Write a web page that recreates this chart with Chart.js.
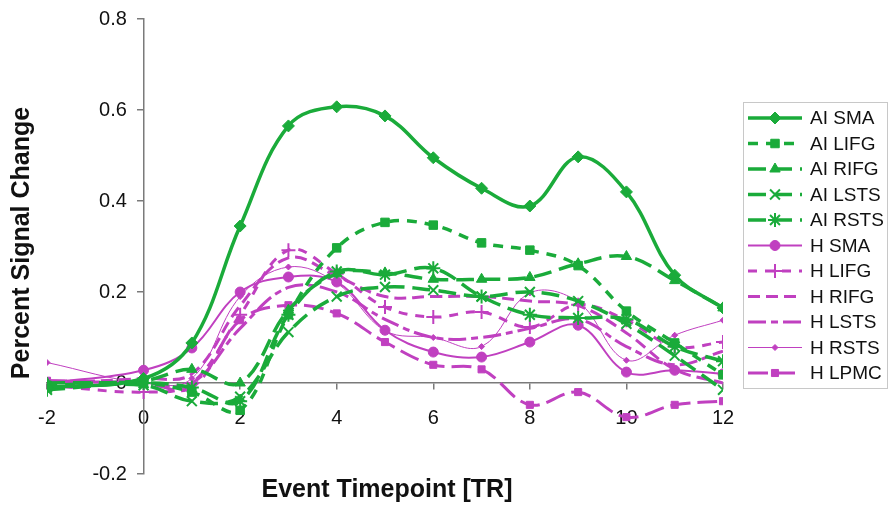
<!DOCTYPE html>
<html lang="en">
<head>
  <meta charset="UTF-8" />
  <title>Percent Signal Change</title>
  <style>
    body { margin: 0; background: #fff; }
    #wrap { width: 890px; height: 505px; }
  </style>
  <script src="https://cdn.jsdelivr.net/npm/chart.js"></script>
</head>
<body>
  <div id="wrap"><canvas id="psc" width="890" height="505"></canvas></div>
  <script>
    // timepoints (TR) and series values
    const timepoints = [-2, 0, 1, 2, 3, 4, 5, 6, 7, 8, 9, 10, 11, 12];

    const aiSMA  = [-0.01, 0.01, 0.088, 0.345, 0.565, 0.607, 0.587, 0.495, 0.428, 0.389, 0.497, 0.42, 0.237, 0.165];
    const aiLIFG = [-0.005, 0.0, -0.02, -0.06, 0.15, 0.297, 0.353, 0.347, 0.308, 0.292, 0.258, 0.158, 0.088, 0.018];
    const aiRIFG = [0.0, 0.005, 0.03, 0.0, 0.16, 0.24, 0.242, 0.228, 0.228, 0.232, 0.262, 0.278, 0.225, 0.165];
    const aiLSTS = [-0.01, -0.005, -0.04, -0.03, 0.112, 0.19, 0.211, 0.204, 0.19, 0.2, 0.18, 0.13, 0.06, -0.015];
    const aiRSTS = [-0.015, 0.0, -0.01, -0.04, 0.15, 0.245, 0.238, 0.252, 0.19, 0.15, 0.143, 0.14, 0.08, 0.048];

    const hSMA  = [0.0, 0.028, 0.077, 0.2, 0.233, 0.222, 0.116, 0.068, 0.057, 0.09, 0.127, 0.024, 0.028, 0.02];
    const hLIFG = [-0.005, -0.02, 0.0, 0.15, 0.292, 0.24, 0.167, 0.145, 0.156, 0.123, 0.172, 0.138, 0.08, 0.09];
    const hRIFG = [0.0, 0.01, 0.02, 0.17, 0.275, 0.235, 0.19, 0.19, 0.19, 0.18, 0.17, 0.11, 0.03, 0.0];
    const hLSTS = [0.005, 0.0, 0.0, 0.12, 0.21, 0.2, 0.14, 0.1, 0.1, 0.12, 0.14, 0.08, 0.04, 0.07];
    const hRSTS = [0.045, 0.0, 0.01, 0.19, 0.255, 0.22, 0.115, 0.1, 0.08, 0.198, 0.178, 0.05, 0.105, 0.138];
    const hLPMC = [0.005, 0.0, -0.01, 0.138, 0.171, 0.153, 0.09, 0.04, 0.03, -0.048, -0.02, -0.075, -0.048, -0.04];

    const GREEN = '#1aab3a';
    const MAGENTA = '#c040c0';
    const FONT = '"Liberation Sans", Arial, sans-serif';

    function pts(values) {
      return values.map((v, i) => ({ x: timepoints[i], y: v }));
    }

    function series(label, values, color, width, dash, style, radius) {
      const stroked = style === 'crossRot' || style === 'star' || style === 'cross';
      return {
        label: label,
        data: pts(values),
        borderColor: color,
        backgroundColor: color,
        borderWidth: width,
        borderDash: dash,
        pointStyle: style,
        pointRadius: radius,
        pointBorderWidth: stroked ? 2 : 1,
        pointBorderColor: color,
        pointBackgroundColor: color,
        tension: 0.38,
        fill: false
      };
    }

    const datasets = [
      series('AI SMA',  aiSMA,  GREEN, 3.5, [],       'rectRot',  6),
      series('AI LIFG', aiLIFG, GREEN, 3.5, [10, 8],  'rect',     6),
      series('AI RIFG', aiRIFG, GREEN, 3.5, [18, 8],  'triangle', 6),
      series('AI LSTS', aiLSTS, GREEN, 3.5, [18, 8],  'crossRot', 7),
      series('AI RSTS', aiRSTS, GREEN, 3.5, [18, 8],  'star',     7),
      series('H SMA',   hSMA,   MAGENTA, 2, [],       'circle',   5),
      series('H LIFG',  hLIFG,  MAGENTA, 3, [9, 8],   'cross',    7),
      series('H RIFG',  hRIFG,  MAGENTA, 3, [12, 6],  false,      0),
      series('H LSTS',  hLSTS,  MAGENTA, 3, [18, 5, 7, 5], false, 0),
      series('H RSTS',  hRSTS,  MAGENTA, 1, [],       'rectRot',  3),
      series('H LPMC',  hLPMC,  MAGENTA, 3, [20, 7],  'rect',     5)
    ];

    // legend box + axis titles drawn on the canvas
    const extras = {
      id: 'extras',
      afterDraw(chart) {
        const ctx = chart.ctx;
        ctx.save();
        // legend frame
        ctx.strokeStyle = '#c8c8c8';
        ctx.lineWidth = 1;
        ctx.strokeRect(743.5, 102.5, 144, 286);
        ctx.font = '19px ' + FONT;
        ctx.textBaseline = 'middle';
        chart.data.datasets.forEach((ds, i) => {
          const y = 118 + i * 25.5;
          ctx.strokeStyle = ds.borderColor;
          ctx.lineWidth = ds.borderWidth;
          ctx.setLineDash(ds.borderDash);
          ctx.beginPath();
          ctx.moveTo(748, y);
          ctx.lineTo(802, y);
          ctx.stroke();
          ctx.setLineDash([]);
          if (ds.pointStyle) {
            ctx.fillStyle = ds.borderColor;
            ctx.lineWidth = ds.pointBorderWidth;
            Chart.helpers.drawPoint(ctx, {
              pointStyle: ds.pointStyle,
              radius: ds.pointRadius,
              borderWidth: ds.pointBorderWidth,
              rotation: 0
            }, 775, y);
          }
          ctx.fillStyle = '#111';
          ctx.textAlign = 'left';
          ctx.fillText(ds.label, 810, y + 1);
        });
        // axis titles
        ctx.fillStyle = '#111';
        ctx.font = 'bold 25px ' + FONT;
        ctx.textAlign = 'center';
        ctx.fillText('Event Timepoint [TR]', 387, 490);
        ctx.translate(22, 243);
        ctx.rotate(-Math.PI / 2);
        ctx.fillText('Percent Signal Change', 0, 0);
        ctx.restore();
      }
    };

    new Chart(document.getElementById('psc'), {
      type: 'line',
      data: { datasets: datasets },
      plugins: [extras],
      options: {
        responsive: false,
        animation: false,
        layout: { padding: { left: 47, right: 167, top: 19, bottom: 31 } },
        plugins: { legend: { display: false }, tooltip: { enabled: false } },
        scales: {
          x: {
            type: 'linear',
            min: -2,
            max: 12,
            position: { y: 0 },
            border: { color: '#7a7a7a', width: 1.5 },
            grid: { drawOnChartArea: false, color: '#7a7a7a', tickLength: 6, lineWidth: 1.5 },
            ticks: { stepSize: 2, color: '#111', font: { family: FONT, size: 20 }, padding: 17 }
          },
          y: {
            min: -0.2,
            max: 0.8,
            position: { x: 0 },
            border: { color: '#7a7a7a', width: 1.5 },
            grid: { drawOnChartArea: false, color: '#7a7a7a', tickLength: 6, lineWidth: 1.5 },
            ticks: {
              stepSize: 0.2,
              color: '#111',
              font: { family: FONT, size: 20 },
              // centred axis puts labels flush on the line, so pad them with spaces
              callback: (v) => (Math.round(v * 10) / 10) + '   '
            }
          }
        }
      }
    });
  </script>
</body>
</html>
